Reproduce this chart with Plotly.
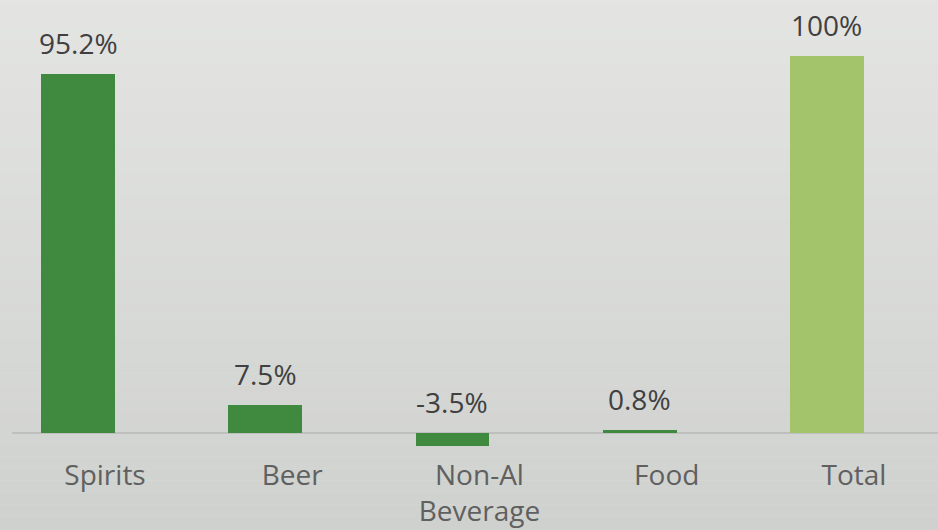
import plotly.graph_objects as go

categories = ["Spirits", "Beer", "Non-Al<br>Beverage", "Food", "Total"]
values = [95.2, 7.5, -3.5, 0.8, 100]
labels = ["95.2%", "7.5%", "-3.5%", "0.8%", "100%"]
bar_colors = ["#408A40", "#408A40", "#408A40", "#408A40", "#A3C46A"]

FONT = "Open Sans"
fig = go.Figure()
fig.add_trace(go.Bar(
    x=list(range(len(categories))), y=values,
    marker=dict(color=bar_colors, line=dict(width=0)),
    width=0.395, hoverinfo="skip",
))

for i, (v, t) in enumerate(zip(values, labels)):
    fig.add_annotation(x=i, y=max(v, 0), text=t, showarrow=False,
                       xref="x", yref="y", yanchor="bottom", yshift=10,
                       font=dict(family=FONT, size=28, color="#404040"))

# background gradient
top = (231, 232, 230)
bot = (207, 209, 206)
n = 53
shapes = []
for k in range(n):
    f = k / (n - 1)
    c = tuple(round(top[j] + (bot[j] - top[j]) * f) for j in range(3))
    shapes.append(dict(type="rect", xref="paper", yref="paper",
                       x0=-0.02, x1=1.02, y0=1.2 - (k + 1) * 1.4 / n, y1=1.2 - k * 1.4 / n,
                       fillcolor="rgb(%d,%d,%d)" % c, line=dict(width=0), layer="below"))

fig.update_layout(
    width=938, height=530,
    margin=dict(l=12, r=0, t=0, b=80),
    paper_bgcolor="rgb(220,222,219)",
    plot_bgcolor="rgba(0,0,0,0)",
    showlegend=False,
    shapes=shapes,
    bargap=0,
    xaxis=dict(
        range=[-0.3525, 4.593],
        tickmode="array", tickvals=list(range(len(categories))), ticktext=categories,
        tickfont=dict(family=FONT, size=28, color="#606060"),
        ticklabelstandoff=6, ticklabelshift=27,
        showgrid=False, zeroline=False, showline=False, ticks="",
    ),
    yaxis=dict(
        range=[-4.51, 114.85],
        showgrid=False, showticklabels=False, ticks="",
        zeroline=True, zerolinecolor="#BFBFBF", zerolinewidth=2, showline=False,
    ),
)

fig.write_html("out.html", config={"displayModeBar": False},
               post_script="document.body.style.margin='0';document.body.style.overflow='hidden';")
